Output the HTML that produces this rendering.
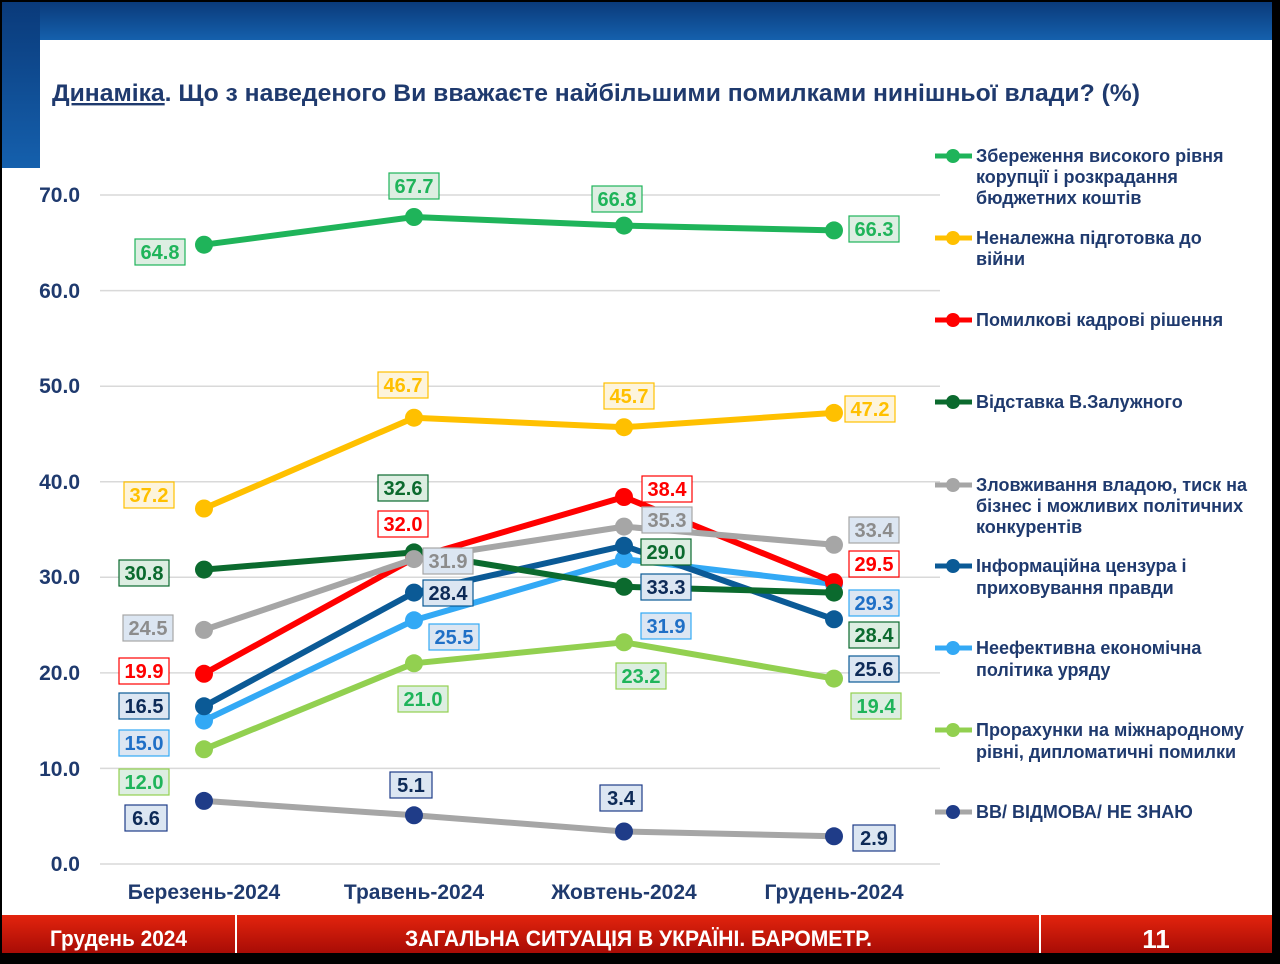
<!DOCTYPE html><html><head><meta charset="utf-8"><style>
body{margin:0;background:#000;width:1280px;height:959px;overflow:hidden;font-family:"Liberation Sans",sans-serif}
</style></head><body>
<svg width="1280" height="959" xmlns="http://www.w3.org/2000/svg" font-family="Liberation Sans, sans-serif" font-weight="bold">
<defs>
<linearGradient id="bl" x1="0" y1="0" x2="0" y2="1"><stop offset="0" stop-color="#0a3a7a"/><stop offset="1" stop-color="#1560ad"/></linearGradient>
<linearGradient id="rd" x1="0" y1="0" x2="0" y2="1"><stop offset="0" stop-color="#e3240d"/><stop offset="1" stop-color="#a80c06"/></linearGradient>
</defs>
<rect x="2" y="2" width="1270" height="950" fill="#fff"/>
<rect x="2" y="2" width="1270" height="38" fill="url(#bl)"/>
<rect x="2" y="2" width="38" height="166" fill="url(#bl)"/>
<text x="52" y="101" font-size="24" fill="#1f3a6e" textLength="1088" lengthAdjust="spacingAndGlyphs"><tspan text-decoration="underline">Динаміка</tspan>. Що з наведеного Ви вважаєте найбільшими помилками нинішньої влади? (%)</text>
<g stroke="#d9d9d9" stroke-width="1.5">
<line x1="100" x2="940" y1="195" y2="195"/><line x1="100" x2="940" y1="290.6" y2="290.6"/><line x1="100" x2="940" y1="386.2" y2="386.2"/><line x1="100" x2="940" y1="481.7" y2="481.7"/><line x1="100" x2="940" y1="577.3" y2="577.3"/><line x1="100" x2="940" y1="672.9" y2="672.9"/><line x1="100" x2="940" y1="768.4" y2="768.4"/><line x1="100" x2="940" y1="864" y2="864"/>
</g>
<g font-size="21" fill="#1f3a6e" text-anchor="end">
<text x="80" y="202">70.0</text><text x="80" y="298">60.0</text><text x="80" y="393">50.0</text><text x="80" y="489">40.0</text><text x="80" y="584">30.0</text><text x="80" y="680">20.0</text><text x="80" y="776">10.0</text><text x="80" y="871">0.0</text>
</g>
<g font-size="21" fill="#1f3a6e" text-anchor="middle">
<text x="204" y="899">Березень-2024</text><text x="414" y="899">Травень-2024</text><text x="624" y="899">Жовтень-2024</text><text x="834" y="899">Грудень-2024</text>
</g>
<g fill="none" stroke-width="6" stroke-linejoin="round">
<polyline stroke="#a6a6a6" points="204,800.9 414,815.3 624,831.5 834,836.3"/>
<polyline stroke="#92d050" points="204,749.3 414,663.3 624,642.3 834,678.6"/>
<polyline stroke="#33a9f5" points="204,720.6 414,620.3 624,559.1 834,584"/>
<polyline stroke="#0b5a96" points="204,706.3 414,592.6 624,545.8 834,619.3"/>
<polyline stroke="#ff0000" points="204,673.8 414,558.2 624,497 834,582.1"/>
<polyline stroke="#0b6a2e" points="204,569.6 414,552.4 624,586.8 834,592.6"/>
<polyline stroke="#a6a6a6" points="204,629.9 414,559.1 624,526.6 834,544.8"/>
<polyline stroke="#ffc000" points="204,508.5 414,417.7 624,427.2 834,412.9"/>
<polyline stroke="#1fb45a" points="204,244.7 414,217 624,225.6 834,230.4"/>
</g>
<g>
<g fill="#1f3c88"><circle cx="204" cy="800.9" r="9"/><circle cx="414" cy="815.3" r="9"/><circle cx="624" cy="831.5" r="9"/><circle cx="834" cy="836.3" r="9"/></g>
<g fill="#92d050"><circle cx="204" cy="749.3" r="9"/><circle cx="414" cy="663.3" r="9"/><circle cx="624" cy="642.3" r="9"/><circle cx="834" cy="678.6" r="9"/></g>
<g fill="#33a9f5"><circle cx="204" cy="720.6" r="9"/><circle cx="414" cy="620.3" r="9"/><circle cx="624" cy="559.1" r="9"/><circle cx="834" cy="584" r="9"/></g>
<g fill="#0b5a96"><circle cx="204" cy="706.3" r="9"/><circle cx="414" cy="592.6" r="9"/><circle cx="624" cy="545.8" r="9"/><circle cx="834" cy="619.3" r="9"/></g>
<g fill="#ff0000"><circle cx="204" cy="673.8" r="9"/><circle cx="414" cy="558.2" r="9"/><circle cx="624" cy="497" r="9"/><circle cx="834" cy="582.1" r="9"/></g>
<g fill="#0b6a2e"><circle cx="204" cy="569.6" r="9"/><circle cx="414" cy="552.4" r="9"/><circle cx="624" cy="586.8" r="9"/><circle cx="834" cy="592.6" r="9"/></g>
<g fill="#a6a6a6"><circle cx="204" cy="629.9" r="9"/><circle cx="414" cy="559.1" r="9"/><circle cx="624" cy="526.6" r="9"/><circle cx="834" cy="544.8" r="9"/></g>
<g fill="#ffc000"><circle cx="204" cy="508.5" r="9"/><circle cx="414" cy="417.7" r="9"/><circle cx="624" cy="427.2" r="9"/><circle cx="834" cy="412.9" r="9"/></g>
<g fill="#1fb45a"><circle cx="204" cy="244.7" r="9"/><circle cx="414" cy="217" r="9"/><circle cx="624" cy="225.6" r="9"/><circle cx="834" cy="230.4" r="9"/></g>
</g>
<g font-size="20" text-anchor="middle" stroke-width="1.2">
<g fill="#1fb45a"><rect x="135" y="239" width="50" height="26" fill="#ddeee2" stroke="#1fb45a"/><text x="160" y="259">64.8</text>
<rect x="389" y="173" width="50" height="26" fill="#ddeee2" stroke="#1fb45a"/><text x="414" y="193">67.7</text>
<rect x="592" y="186" width="50" height="26" fill="#ddeee2" stroke="#1fb45a"/><text x="617" y="206">66.8</text>
<rect x="849" y="216" width="50" height="26" fill="#ddeee2" stroke="#1fb45a"/><text x="874" y="236">66.3</text></g>
<g fill="#ffc000"><rect x="124" y="482" width="50" height="26" fill="#fdf4dc" stroke="#ffc000"/><text x="149" y="502">37.2</text>
<rect x="378" y="372" width="50" height="26" fill="#fdf4dc" stroke="#ffc000"/><text x="403" y="392">46.7</text>
<rect x="604" y="383" width="50" height="26" fill="#fdf4dc" stroke="#ffc000"/><text x="629" y="403">45.7</text>
<rect x="845" y="396" width="50" height="26" fill="#fdf4dc" stroke="#ffc000"/><text x="870" y="416">47.2</text></g>
<g fill="#ff0000"><rect x="119" y="658" width="50" height="26" fill="#fff" stroke="#ff0000"/><text x="144" y="678">19.9</text>
<rect x="378" y="511" width="50" height="26" fill="#fff" stroke="#ff0000"/><text x="403" y="531">32.0</text>
<rect x="642" y="476" width="50" height="26" fill="#fff" stroke="#ff0000"/><text x="667" y="496">38.4</text>
<rect x="849" y="551" width="50" height="26" fill="#fff" stroke="#ff0000"/><text x="874" y="571">29.5</text></g>
<g fill="#0b6a2e"><rect x="119" y="560" width="50" height="26" fill="#ddeee2" stroke="#0b6a2e"/><text x="144" y="580">30.8</text>
<rect x="378" y="475" width="50" height="26" fill="#ddeee2" stroke="#0b6a2e"/><text x="403" y="495">32.6</text>
<rect x="641" y="539" width="50" height="26" fill="#ddeee2" stroke="#0b6a2e"/><text x="666" y="559">29.0</text>
<rect x="849" y="622" width="50" height="26" fill="#ddeee2" stroke="#0b6a2e"/><text x="874" y="642">28.4</text></g>
<g fill="#8c8c8c"><rect x="123" y="615" width="50" height="26" fill="#dce6f2" stroke="#a6a6a6"/><text x="148" y="635">24.5</text>
<rect x="423" y="548" width="50" height="26" fill="#dce6f2" stroke="#a6a6a6"/><text x="448" y="568">31.9</text>
<rect x="642" y="507" width="50" height="26" fill="#dce6f2" stroke="#a6a6a6"/><text x="667" y="527">35.3</text>
<rect x="849" y="517" width="50" height="26" fill="#dce6f2" stroke="#a6a6a6"/><text x="874" y="537">33.4</text></g>
<g fill="#0d2a57"><rect x="119" y="693" width="50" height="26" fill="#dce6f2" stroke="#0b5a96"/><text x="144" y="713">16.5</text>
<rect x="423" y="580" width="50" height="26" fill="#dce6f2" stroke="#0b5a96"/><text x="448" y="600">28.4</text>
<rect x="641" y="574" width="50" height="26" fill="#dce6f2" stroke="#0b5a96"/><text x="666" y="594">33.3</text>
<rect x="849" y="656" width="50" height="26" fill="#dce6f2" stroke="#0b5a96"/><text x="874" y="676">25.6</text></g>
<g fill="#1f6fc6"><rect x="119" y="730" width="50" height="26" fill="#dce6f2" stroke="#33a9f5"/><text x="144" y="750">15.0</text>
<rect x="429" y="624" width="50" height="26" fill="#dce6f2" stroke="#33a9f5"/><text x="454" y="644">25.5</text>
<rect x="641" y="613" width="50" height="26" fill="#dce6f2" stroke="#33a9f5"/><text x="666" y="633">31.9</text>
<rect x="849" y="590" width="50" height="26" fill="#dce6f2" stroke="#33a9f5"/><text x="874" y="610">29.3</text></g>
<g fill="#1fb45a"><rect x="119" y="769" width="50" height="26" fill="#ddeee2" stroke="#92d050"/><text x="144" y="789">12.0</text>
<rect x="398" y="686" width="50" height="26" fill="#ddeee2" stroke="#92d050"/><text x="423" y="706">21.0</text>
<rect x="616" y="663" width="50" height="26" fill="#ddeee2" stroke="#92d050"/><text x="641" y="683">23.2</text>
<rect x="851" y="693" width="50" height="26" fill="#ddeee2" stroke="#92d050"/><text x="876" y="713">19.4</text></g>
<g fill="#0d2a57"><rect x="125" y="805" width="42" height="26" fill="#dce6f2" stroke="#1f3c88"/><text x="146" y="825">6.6</text>
<rect x="390" y="772" width="42" height="26" fill="#dce6f2" stroke="#1f3c88"/><text x="411" y="792">5.1</text>
<rect x="600" y="785" width="42" height="26" fill="#dce6f2" stroke="#1f3c88"/><text x="621" y="805">3.4</text>
<rect x="853" y="825" width="42" height="26" fill="#dce6f2" stroke="#1f3c88"/><text x="874" y="845">2.9</text></g>
</g>
<g font-size="18" fill="#1f3a6e">
<line x1="935" x2="972" y1="156" y2="156" stroke="#1fb45a" stroke-width="5"/><circle cx="953" cy="156" r="7" fill="#1fb45a"/>
<text x="976" y="162">Збереження високого рівня</text><text x="976" y="183">корупції і розкрадання</text><text x="976" y="204">бюджетних коштів</text>
<line x1="935" x2="972" y1="238" y2="238" stroke="#ffc000" stroke-width="5"/><circle cx="953" cy="238" r="7" fill="#ffc000"/>
<text x="976" y="244">Неналежна підготовка до</text><text x="976" y="265">війни</text>
<line x1="935" x2="972" y1="320" y2="320" stroke="#ff0000" stroke-width="5"/><circle cx="953" cy="320" r="7" fill="#ff0000"/>
<text x="976" y="326">Помилкові кадрові рішення</text>
<line x1="935" x2="972" y1="402" y2="402" stroke="#0b6a2e" stroke-width="5"/><circle cx="953" cy="402" r="7" fill="#0b6a2e"/>
<text x="976" y="408">Відставка В.Залужного</text>
<line x1="935" x2="972" y1="485" y2="485" stroke="#a6a6a6" stroke-width="5"/><circle cx="953" cy="485" r="7" fill="#a6a6a6"/>
<text x="976" y="491">Зловживання владою, тиск на</text><text x="976" y="512">бізнес і можливих політичних</text><text x="976" y="533">конкурентів</text>
<line x1="935" x2="972" y1="566" y2="566" stroke="#0b5a96" stroke-width="5"/><circle cx="953" cy="566" r="7" fill="#0b5a96"/>
<text x="976" y="572">Інформаційна цензура і</text><text x="976" y="594">приховування правди</text>
<line x1="935" x2="972" y1="648" y2="648" stroke="#33a9f5" stroke-width="5"/><circle cx="953" cy="648" r="7" fill="#33a9f5"/>
<text x="976" y="654">Неефективна економічна</text><text x="976" y="676">політика уряду</text>
<line x1="935" x2="972" y1="730" y2="730" stroke="#92d050" stroke-width="5"/><circle cx="953" cy="730" r="7" fill="#92d050"/>
<text x="976" y="736">Прорахунки на міжнародному</text><text x="976" y="758">рівні, дипломатичні помилки</text>
<line x1="935" x2="972" y1="812" y2="812" stroke="#a6a6a6" stroke-width="5"/><circle cx="953" cy="812" r="7" fill="#1f3c88"/>
<text x="976" y="818">ВВ/ ВІДМОВА/ НЕ ЗНАЮ</text>
</g>
<rect x="2" y="915" width="1270" height="38" fill="url(#rd)"/>
<rect x="235" y="915" width="2" height="38" fill="#fff"/>
<rect x="1039" y="915" width="2" height="38" fill="#fff"/>
<g fill="#fff" font-size="22">
<text x="50" y="946" textLength="137" lengthAdjust="spacingAndGlyphs">Грудень 2024</text>
<text x="405" y="946" textLength="467" lengthAdjust="spacingAndGlyphs">ЗАГАЛЬНА СИТУАЦІЯ В УКРАЇНІ. БАРОМЕТР.</text>
<text x="1156" y="948" text-anchor="middle" font-size="26">11</text>
</g>
</svg>
</body></html>
